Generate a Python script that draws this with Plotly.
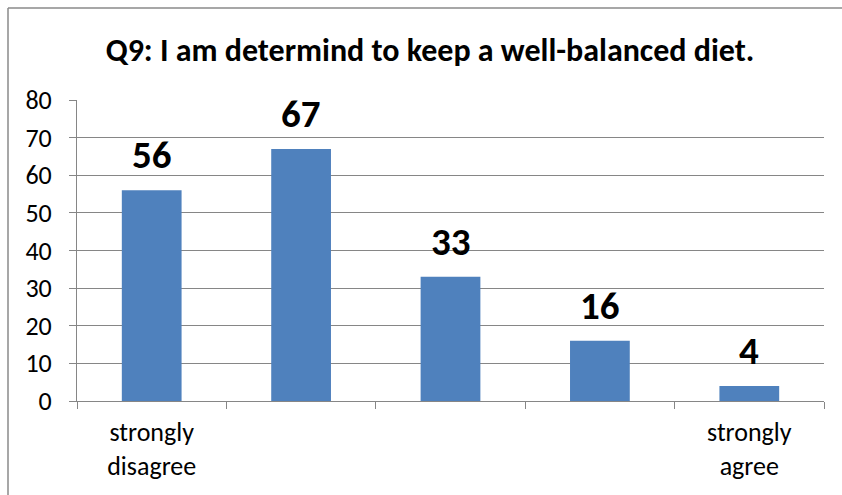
import plotly.graph_objects as go

categories = ["strongly disagree", "disagree", "neutral", "agree", "strongly agree"]
counts = [56, 67, 33, 16, 4]
tick_labels = ["strongly<br>disagree", "", "", "", "strongly<br>agree"]

font_family = "Carlito, Calibri, Lato, sans-serif"
bar_color = "#4F81BD"
line_gray = "#868686"
frame_gray = "#8a8a8a"

trace = go.Bar(
    x=categories,
    y=counts,
    marker=dict(color=bar_color, line=dict(width=0)),
    width=0.4,
    hoverinfo="x+y",
)

W, H = 842, 495
# plot area in pixels: x 77..824, y 100..401
L, R, T, B = 77, 824, 100, 401
PW, PH = R - L, B - T

layout = go.Layout(
    width=W,
    height=H,
    margin=dict(l=L, r=W - R, t=T, b=H - B),
    paper_bgcolor="white",
    plot_bgcolor="white",
    showlegend=False,
    font=dict(family=font_family, size=26, color="black"),
    title=dict(
        text="<b>Q9: I am determind to keep a well-balanced diet.</b>",
        x=430 / W,
        xanchor="center",
        y=1 - 50 / H,
        yanchor="middle",
        font=dict(family=font_family, size=32, color="black"),
    ),
    xaxis=dict(
        type="category",
        tickmode="array",
        tickvals=categories,
        ticktext=tick_labels,
        tickson="boundaries",
        ticks="outside",
        ticklen=7,
        tickcolor=line_gray,
        showline=True,
        linecolor=line_gray,
        linewidth=1,
        showgrid=False,
        tickfont=dict(size=26),
        ticklabelstandoff=8,
        automargin=False,
    ),
    yaxis=dict(
        range=[0, 80],
        dtick=10,
        ticks="outside",
        ticklen=7,
        tickcolor=line_gray,
        showline=True,
        linecolor=line_gray,
        linewidth=1,
        showgrid=True,
        gridcolor=line_gray,
        gridwidth=1,
        zeroline=False,
        tickfont=dict(size=26),
        ticklabelstandoff=12,
        automargin=False,
    ),
    shapes=[
        # chart frame: only top and left edges are visible in the crop
        dict(type="line", xref="paper", yref="paper",
             x0=(8 - L) / PW, x1=(W - L) / PW,
             y0=(B - 8) / PH, y1=(B - 8) / PH,
             line=dict(color=frame_gray, width=1.5)),
        dict(type="line", xref="paper", yref="paper",
             x0=(8 - L) / PW, x1=(8 - L) / PW,
             y0=(B - H) / PH, y1=(B - 8) / PH,
             line=dict(color=frame_gray, width=1.5)),
    ],
)

fig = go.Figure(data=[trace], layout=layout)

for cat, val in zip(categories, counts):
    fig.add_annotation(
        x=cat,
        y=val,
        text="<b>%d</b>" % val,
        showarrow=False,
        yanchor="bottom",
        yshift=10,
        font=dict(family=font_family, size=39, color="black"),
    )

# drop the default body margin and scrollbars so the figure fills the window
page_css = (
    "document.body.style.margin='0';"
    "document.body.style.overflow='hidden';"
    "document.documentElement.style.overflow='hidden';"
)
fig.write_html(
    "out.html",
    post_script=page_css,
    config={"displayModeBar": False},
)
